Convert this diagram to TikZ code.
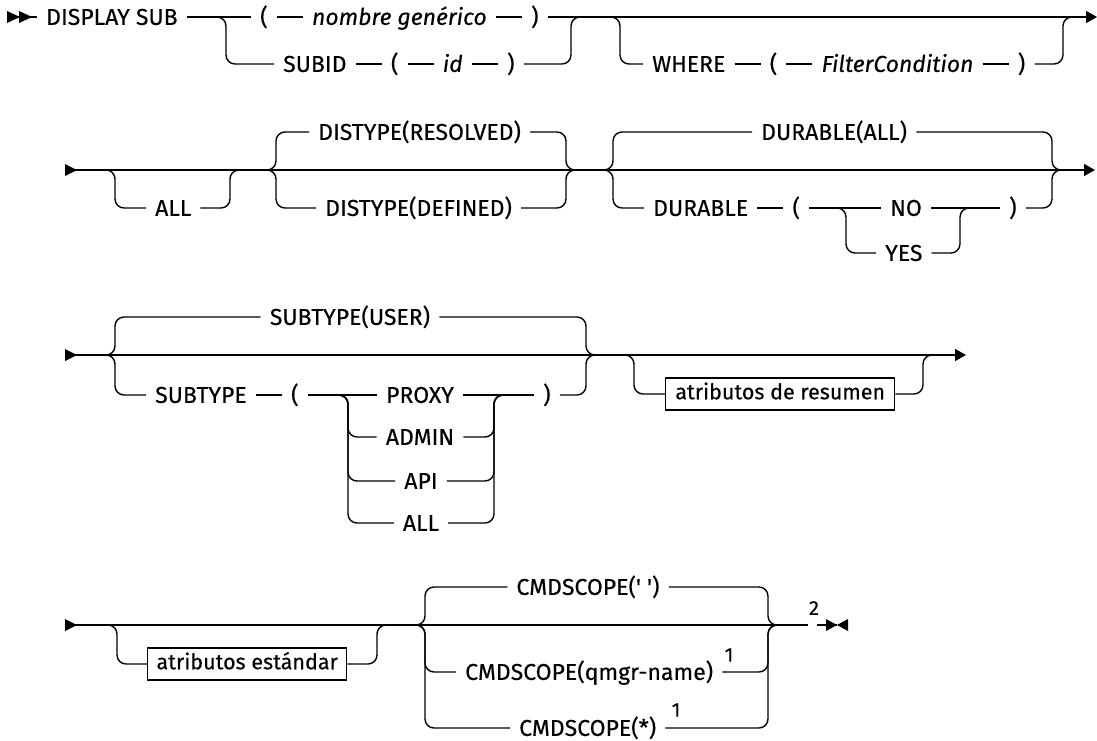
\documentclass[tikz,border=0pt]{standalone}
\usepackage{fontspec}
\setmainfont{Fira Sans}[FakeBold=0.3]
\usetikzlibrary{arrows.meta,positioning,calc}
\newcommand\tkfont{\fontsize{23}{26}\selectfont}
\tikzset{
  ln/.style={line width=1.4pt, rounded corners=9pt},
  tk/.style={font=\tkfont, inner xsep=9pt, inner ysep=0pt, text height=15.8pt, text depth=0pt},
  it/.style={tk, font=\tkfont\itshape},
  bx/.style={draw, line width=1.4pt, font=\fontsize{21.5}{24}\selectfont, inner xsep=3pt, inner ysep=0pt, text height=15pt, text depth=4.5pt, minimum height=32pt},
  fn/.style={font=\fontsize{20}{22}\selectfont, inner sep=0pt},
  endarrow/.style={-{Triangle[length=11pt,width=12pt]}}
}
\newcommand\brin[2]{\draw[ln] ($(#1)+(-20,0)$) -- (#1) -- (#1 |- #2.west) -- (#2.west);}
\newcommand\brout[2]{\draw[ln] (#1.east) -- (#2 |- #1.east) -- (#2) -- ($(#2)+(20,0)$);}
\begin{document}
\begin{tikzpicture}[x=1pt,y=-1pt]
\useasboundingbox (0,0) rectangle (1097,740);
% ---------------- Row 1
\coordinate (r1s) at (7,17);
\coordinate (r1L) at (226,17);
\coordinate (r1R) at (571,17);
\coordinate (wL) at (620,17);
\coordinate (wR) at (1063,17);
\coordinate (r1e) at (1097,17);
\node[tk,anchor=west] (ds) at (37,17) {DISPLAY SUB};
\node[tk,anchor=west] (p1) at (251,17) {(};
\node[it,right=26pt of p1] (ng) {nombre genérico};
\node[tk,right=26pt of ng] (p2) {)};
\node[tk,anchor=west] (sb) at (274,64) {SUBID};
\node[tk,right=26pt of sb] (p3) {(};
\node[it,right=26pt of p3] (idn) {id};
\node[tk,right=26pt of idn] (p4) {)};
\node[tk,anchor=west] (wh) at (643,64) {WHERE};
\node[tk,right=26pt of wh] (p5) {(};
\node[it,right=26pt of p5] (fc) {FilterCondition};
\node[tk,right=26pt of fc] (p6) {)};
\draw[ln] (r1s) -- (ds.west);
\fill (7,11) -- (20,17) -- (7,23) -- cycle;
\fill (19,11) -- (32,17) -- (19,23) -- cycle;
\draw[ln] (ds.east) -- (p1.west) (p1.east) -- (ng.west) (ng.east) -- (p2.west);
\draw[ln,endarrow] (p2.east) -- (r1e);
\brin{r1L}{sb}
\draw[ln] (sb.east) -- (p3.west) (p3.east) -- (idn.west) (idn.east) -- (p4.west);
\brout{p4}{r1R}
\brin{wL}{wh}
\draw[ln] (wh.east) -- (p5.west) (p5.east) -- (fc.west) (fc.east) -- (p6.west);
\brout{p6}{wR}
% ---------------- Row 2
\coordinate (r2s) at (65,170);
\coordinate (r2e) at (1095,170);
\coordinate (aL) at (115,170);
\coordinate (aR) at (230,170);
\coordinate (dL) at (276,170);
\coordinate (dR) at (566,170);
\coordinate (uL) at (613,170);
\coordinate (uR) at (1052,170);
\coordinate (nL) at (846,208);
\coordinate (nR) at (960,208);
\fill (65,164) -- (77,170) -- (65,176) -- cycle;
\draw[ln,endarrow] (r2s) -- (r2e);
\node[tk,anchor=west] (all1) at (146,208) {ALL};
\brin{aL}{all1}
\brout{all1}{aR}
\node[tk,anchor=west] (res) at (309,132) {DISTYPE(RESOLVED)};
\node[tk,anchor=west] (def) at (316,208) {DISTYPE(DEFINED)};
\brin{dL}{res}
\brout{res}{dR}
\brin{dL}{def}
\brout{def}{dR}
\node[tk,anchor=west] (dall) at (752,132) {DURABLE(ALL)};
\node[tk,anchor=west] (dur) at (644,208) {DURABLE};
\node[tk,right=26pt of dur] (p7) {(};
\node[tk,anchor=west] (no) at (881,208) {NO};
\node[tk,anchor=west] (yes) at (876,253) {YES};
\node[tk,anchor=west] (p8) at (1000,208) {)};
\brin{uL}{dall}
\brout{dall}{uR}
\brin{uL}{dur}
\draw[ln] (dur.east) -- (p7.west) (p7.east) -- (no.west) (no.east) -- (p8.west);
\brin{nL}{yes}
\brout{yes}{nR}
\brout{p8}{uR}
% ---------------- Row 3
\coordinate (r3s) at (65,355);
\coordinate (r3e) at (966,355);
\coordinate (sL) at (115,355);
\coordinate (sR) at (586,355);
\coordinate (xL) at (348,395);
\coordinate (xR) at (494,395);
\coordinate (rL) at (634,355);
\coordinate (rR) at (923,355);
\fill (65,349) -- (77,355) -- (65,361) -- cycle;
\draw[ln,endarrow] (r3s) -- (r3e);
\node[tk] (usr) at (350,317) {SUBTYPE(USER)};
\node[tk,anchor=west] (sbt) at (146,395) {SUBTYPE};
\node[tk,right=26pt of sbt] (p9) {(};
\node[tk] (prx) at (420,395) {PROXY};
\node[tk] (adm) at (420,437) {ADMIN};
\node[tk] (api) at (421,481) {API};
\node[tk] (all2) at (421,523) {ALL};
\node[tk,anchor=west] (p10) at (534,395) {)};
\brin{sL}{usr}
\brout{usr}{sR}
\brin{sL}{sbt}
\draw[ln] (sbt.east) -- (p9.west) (p9.east) -- (prx.west) (prx.east) -- (p10.west);
\brin{xL}{adm}
\brin{xL}{api}
\brin{xL}{all2}
\brout{adm}{xR}
\brout{api}{xR}
\brout{all2}{xR}
\brout{p10}{sR}
\node[bx,anchor=west,minimum width=229pt] (box1) at (665,394) {atributos de resumen};
\brin{rL}{box1}
\brout{box1}{rR}
% ---------------- Row 4
\coordinate (r4s) at (65,625);
\coordinate (g1) at (808,625);
\coordinate (g2) at (817,625);
\coordinate (g3) at (837,625);
\coordinate (eL) at (117,625);
\coordinate (eR) at (377,625);
\coordinate (cL) at (425,625);
\coordinate (cR) at (768,625);
\fill (65,619) -- (77,625) -- (65,631) -- cycle;
\draw[ln] (r4s) -- (g1);
\draw[ln] (g2) -- (g3);
\fill (826,619) -- (837,625) -- (826,631) -- cycle;
\fill (848,619) -- (837,625) -- (848,631) -- cycle;
\node[fn] (n2) at (814,608) {2};
\node[bx,anchor=west,minimum width=199pt] (box2) at (147,664) {atributos estándar};
\brin{eL}{box2}
\brout{box2}{eR}
\node[tk] (c1) at (588,587) {CMDSCOPE(\textquotesingle\ \textquotesingle)};
\node[tk,anchor=west] (c2) at (456,672) {CMDSCOPE(qmgr-name)};
\node[tk,anchor=west] (c3) at (510,728) {CMDSCOPE(*)};
\node[fn] (f1) at (729,655) {1};
\node[fn] (f2) at (676,710) {1};
\brin{cL}{c1}
\brout{c1}{cR}
\brin{cL}{c2}
\brout{c2}{cR}
\brin{cL}{c3}
\brout{c3}{cR}
\end{tikzpicture}
\end{document}
